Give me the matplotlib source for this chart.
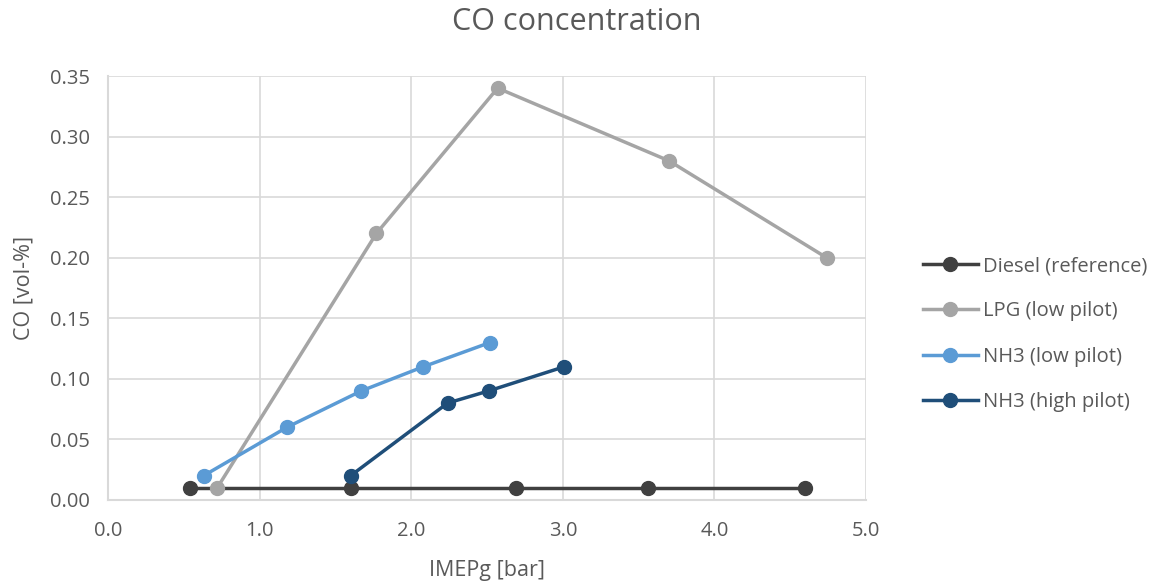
# plot.py
# CO concentration vs IMEPg for the four fuel configurations.

import matplotlib.pyplot as plt

plt.rcParams['font.family'] = ['Open Sans', 'DejaVu Sans']

# data
diesel_x = [0.54, 1.60, 2.69, 3.56, 4.60]
diesel_y = [0.01, 0.01, 0.01, 0.01, 0.01]

lpg_x = [0.72, 1.77, 2.57, 3.70, 4.74]
lpg_y = [0.01, 0.22, 0.34, 0.28, 0.20]

nh3_low_x = [0.63, 1.18, 1.67, 2.08, 2.52]
nh3_low_y = [0.02, 0.06, 0.09, 0.11, 0.13]

nh3_high_x = [1.60, 2.24, 2.51, 3.01]
nh3_high_y = [0.02, 0.08, 0.09, 0.11]

series = [
    (diesel_x, diesel_y, 'Diesel (reference)', '#404040'),
    (lpg_x, lpg_y, 'LPG (low pilot)', '#A5A5A5'),
    (nh3_low_x, nh3_low_y, 'NH3 (low pilot)', '#5B9BD5'),
    (nh3_high_x, nh3_high_y, 'NH3 (high pilot)', '#1F4E79'),
]

text_col = '#595959'
grid_col = '#D9D9D9'

fig = plt.figure(figsize=(11.53, 5.86), dpi=100)
ax = fig.add_axes([0.0937, 0.1468, 0.6574, 0.7235])

for x, y, name, col in series:
    ax.plot(x, y, color=col, linewidth=2.5, marker='o', markersize=10,
            label=name, zorder=3)

ax.set_xlim(0, 5)
ax.set_ylim(0, 0.35)
ax.set_xticks([0, 1, 2, 3, 4, 5])
ax.set_xticklabels(['0.0', '1.0', '2.0', '3.0', '4.0', '5.0'])
ax.set_yticks([0, 0.05, 0.10, 0.15, 0.20, 0.25, 0.30, 0.35])
ax.set_yticklabels(['0.00', '0.05', '0.10', '0.15', '0.20', '0.25', '0.30', '0.35'])

ax.grid(True, color=grid_col, linewidth=1.2, zorder=0)
ax.set_axisbelow(True)
for s in ['top', 'right']:
    ax.spines[s].set_visible(False)
for s in ['left', 'bottom']:
    ax.spines[s].set_color(grid_col)
    ax.spines[s].set_linewidth(1.5)
ax.tick_params(length=0, labelsize=14.5, labelcolor=text_col)
ax.tick_params(axis='x', pad=15)
ax.tick_params(axis='y', pad=13)

ax.set_xlabel('IMEPg [bar]', fontsize=15.5, color=text_col, labelpad=14)
ax.set_ylabel('CO [vol-%]', fontsize=15.5, color=text_col, labelpad=11)
fig.suptitle('CO concentration', fontsize=22, color=text_col, x=0.5, y=0.962, va='center')

leg = fig.legend(loc='center left', bbox_to_anchor=(0.792, 0.43), frameon=False,
                 fontsize=14.5, labelcolor=text_col, handlelength=2.7,
                 handletextpad=0.25, labelspacing=1.25, borderpad=0)

plt.savefig('out.png', dpi=100)
